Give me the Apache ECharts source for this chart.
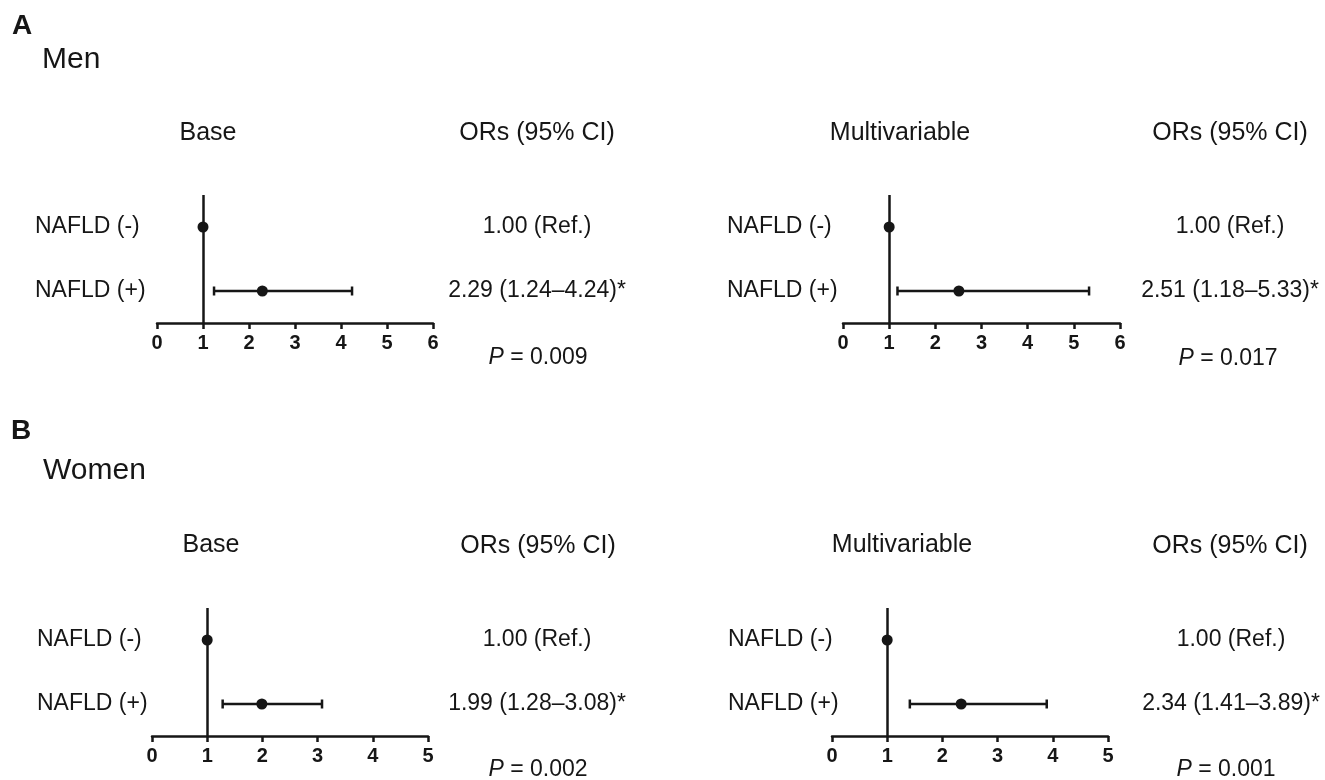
<!DOCTYPE html>
<html>
<head>
<meta charset="utf-8">
<title>NAFLD forest plots</title>
<script src="https://cdn.jsdelivr.net/npm/echarts@6/dist/echarts.min.js"></script>
<style>
  html, body { margin: 0; padding: 0; background: #fff; }
  #chart { width: 1325px; height: 780px; }
</style>
</head>
<body>
<div id="chart"></div>
<script>
// rows, bottom to top on the category axis
const rows = ['NAFLD (+)', 'NAFLD (-)'];

// odds ratios and 95% CI (null = reference group)
const menBaseOR = [2.29, 1.00];
const menBaseLow = [1.24, null];
const menBaseHigh = [4.24, null];
const menMultiOR = [2.51, 1.00];
const menMultiLow = [1.18, null];
const menMultiHigh = [5.33, null];
const womenBaseOR = [1.99, 1.00];
const womenBaseLow = [1.28, null];
const womenBaseHigh = [3.08, null];
const womenMultiOR = [2.34, 1.00];
const womenMultiLow = [1.41, null];
const womenMultiHigh = [3.89, null];

const pValues = ['0.009', '0.017', '0.002', '0.001'];
const menTicksMax = 6;
const womenTicksMax = 5;

const ink = '#161616';
const font = '"Liberation Sans", Arial, Helvetica, sans-serif';

const chart = echarts.init(document.getElementById('chart'));

const panels = [
  { or: menBaseOR, lo: menBaseLow, hi: menBaseHigh, max: menTicksMax,
    grid: { left: 157, top: 195, width: 276, height: 128 }, labelMargin: 122, orMargin: 104 },
  { or: menMultiOR, lo: menMultiLow, hi: menMultiHigh, max: menTicksMax,
    grid: { left: 843, top: 195, width: 277, height: 128 }, labelMargin: 116, orMargin: 110 },
  { or: womenBaseOR, lo: womenBaseLow, hi: womenBaseHigh, max: womenTicksMax,
    grid: { left: 152, top: 608, width: 276, height: 128 }, labelMargin: 115, orMargin: 109 },
  { or: womenMultiOR, lo: womenMultiLow, hi: womenMultiHigh, max: womenTicksMax,
    grid: { left: 832, top: 608, width: 276, height: 128 }, labelMargin: 104, orMargin: 123 }
];

function orText(or, lo, hi) {
  if (lo == null) return or.toFixed(2) + ' (Ref.)';
  return or.toFixed(2) + ' (' + lo.toFixed(2) + '\u2013' + hi.toFixed(2) + ')*';
}

const grids = [], xAxes = [], yAxes = [], series = [];

panels.forEach(function (p, i) {
  grids.push(p.grid);
  xAxes.push({
    type: 'value', gridIndex: i, min: 0, max: p.max, interval: 1,
    splitLine: { show: false },
    axisLine: { show: true, onZero: false, lineStyle: { color: ink, width: 2.5 } },
    axisTick: { show: true, length: 6, lineStyle: { color: ink, width: 2.5 } },
    axisLabel: { color: ink, fontSize: 20, fontWeight: 'bold', fontFamily: font, margin: 10 }
  });
  // row names on the left
  yAxes.push({
    type: 'category', gridIndex: i, data: rows,
    axisLine: { show: false }, axisTick: { show: false }, splitLine: { show: false },
    axisLabel: { color: ink, fontSize: 23, fontFamily: font, align: 'left', margin: p.labelMargin }
  });
  // OR (95% CI) column on the right
  yAxes.push({
    type: 'category', gridIndex: i, position: 'right', data: rows.map(function (r, k) {
      return orText(p.or[k], p.lo[k], p.hi[k]);
    }),
    axisLine: { show: false }, axisTick: { show: false }, splitLine: { show: false },
    axisLabel: { color: ink, fontSize: 23, fontFamily: font, align: 'center', margin: p.orMargin }
  });

  const ciData = [];
  rows.forEach(function (r, k) {
    if (p.lo[k] != null) ciData.push([p.lo[k], p.hi[k], k]);
  });

  // whiskers with end caps
  series.push({
    type: 'custom', xAxisIndex: i, yAxisIndex: i * 2, data: ciData,
    encode: { x: [0, 1], y: 2 },
    renderItem: function (params, api) {
      const a = api.coord([api.value(0), api.value(2)]);
      const b = api.coord([api.value(1), api.value(2)]);
      const h = 4.5;
      const style = { stroke: ink, lineWidth: 2.5 };
      return {
        type: 'group',
        children: [
          { type: 'line', shape: { x1: a[0], y1: a[1], x2: b[0], y2: b[1] }, style: style },
          { type: 'line', shape: { x1: a[0], y1: a[1] - h, x2: a[0], y2: a[1] + h }, style: style },
          { type: 'line', shape: { x1: b[0], y1: b[1] - h, x2: b[0], y2: b[1] + h }, style: style }
        ]
      };
    },
    z: 2
  });
  // point estimates + the OR = 1 reference line
  series.push({
    type: 'scatter', xAxisIndex: i, yAxisIndex: i * 2,
    data: rows.map(function (r, k) { return [p.or[k], k]; }),
    symbolSize: 11, itemStyle: { color: ink, opacity: 1 }, z: 3,
    markLine: {
      silent: true, symbol: 'none', label: { show: false },
      lineStyle: { color: ink, width: 2.5, type: 'solid', opacity: 1 },
      data: [{ xAxis: 1 }]
    }
  });
});

function txt(x, y, text, size, opts) {
  return {
    type: 'text', x: x, y: y,
    style: Object.assign({
      text: text, fill: ink, font: (opts && opts.bold ? 'bold ' : '') + size + 'px ' + font,
      textAlign: (opts && opts.align) || 'center', textVerticalAlign: 'middle'
    }, (opts && opts.rich) ? { rich: opts.rich } : {})
  };
}

const pRich = { i: { fontStyle: 'italic', fontSize: 23, fontFamily: font, fill: ink } };

const graphics = [
  txt(12, 26, 'A', 28, { bold: true, align: 'left' }),
  txt(42, 60, 'Men', 30, { align: 'left' }),
  txt(208, 133, 'Base', 25),
  txt(537, 133, 'ORs (95% CI)', 25),
  txt(900, 133, 'Multivariable', 25),
  txt(1230, 133, 'ORs (95% CI)', 25),
  txt(538, 358, '{i|P} = ' + pValues[0], 23, { rich: pRich }),
  txt(1228, 359, '{i|P} = ' + pValues[1], 23, { rich: pRich }),

  txt(11, 431, 'B', 28, { bold: true, align: 'left' }),
  txt(43, 471, 'Women', 30, { align: 'left' }),
  txt(211, 545, 'Base', 25),
  txt(538, 546, 'ORs (95% CI)', 25),
  txt(902, 545, 'Multivariable', 25),
  txt(1230, 546, 'ORs (95% CI)', 25),
  txt(538, 770, '{i|P} = ' + pValues[2], 23, { rich: pRich }),
  txt(1226, 770, '{i|P} = ' + pValues[3], 23, { rich: pRich })
];

chart.setOption({
  backgroundColor: '#fff',
  animation: false,
  grid: grids,
  xAxis: xAxes,
  yAxis: yAxes,
  series: series,
  graphic: graphics
});
</script>
</body>
</html>
